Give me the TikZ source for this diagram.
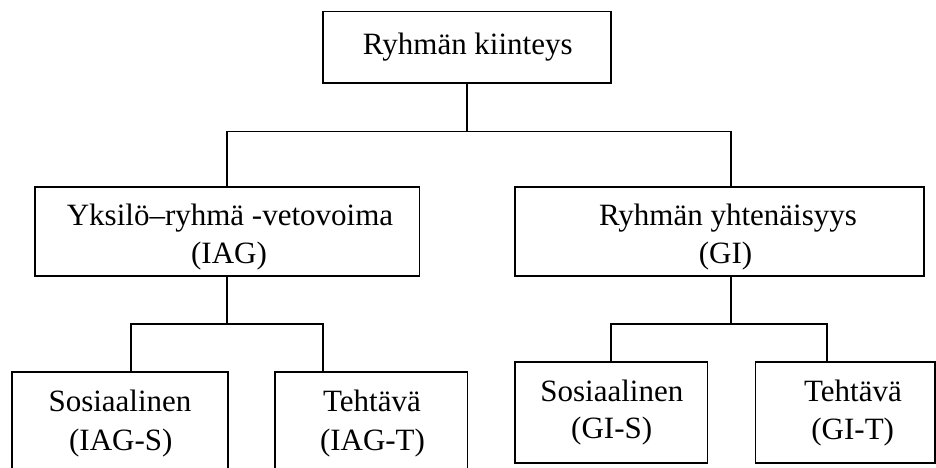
\documentclass[tikz,border=0pt]{standalone}
\usepackage{fontspec}
\setmainfont{Liberation Serif}
\begin{document}
\begin{tikzpicture}[x=1pt,y=-1pt,
  box/.style={draw=black, line width=1.7pt, rectangle, inner sep=0pt, minimum height=#1},
  conn/.style={draw=black, line width=1.7pt},
  txt/.style={inner sep=0pt, anchor=base, font=\fontsize{31}{37}\selectfont}
]
\fill[white] (0,0) rectangle (936,468);
\useasboundingbox (0,0) rectangle (936,468);

% boxes
\node[box=71.8, minimum width=288.3] (top) at (467.0,47.4) {};
\node[box=88.4, minimum width=384.3] (iag) at (227.2,231.5) {};
\node[box=88.4, minimum width=409.0] (gi) at (719.2,231.5) {};
\node[box=102, minimum width=216.0] (iags) at (119.7,422.7) {};
\node[box=102, minimum width=192.2] (iagt) at (371.4,422.7) {};
\node[box=101.6, minimum width=192.3] (gis) at (611.2,412.5) {};
\node[box=101.6, minimum width=179.7] (git) at (845.2,412.5) {};

% texts
\node[txt] (t0) at (467.8,55) {Ryhmän kiinteys};
\node[txt] (t1a) at (230,225.7) {Yksilö–ryhmä -vetovoima};
\node[txt] (t1b) at (229,263.3) {(IAG)};
\node[txt] (t2a) at (728,225.7) {Ryhmän yhtenäisyys};
\node[txt] (t2b) at (725.5,263.3) {(GI)};
\node[txt] (t3a) at (120,411.7) {Sosiaalinen};
\node[txt] (t3b) at (120.8,450.2) {(IAG-S)};
\node[txt] (t4a) at (372,411.7) {Tehtävä};
\node[txt] (t4b) at (372.5,450.2) {(IAG-T)};
\node[txt] (t5a) at (611.8,401.7) {Sosiaalinen};
\node[txt] (t5b) at (611.7,438.8) {(GI-S)};
\node[txt] (t6a) at (853,401.7) {Tehtävä};
\node[txt] (t6b) at (852.7,439.5) {(GI-T)};

% junction coordinates
\coordinate (b1L) at (227.3,131.5);
\coordinate (b1R) at (731.3,131.5);
\coordinate (b2L) at (131,324);
\coordinate (b2R) at (322.7,324);
\coordinate (b3L) at (611.3,324);
\coordinate (b3R) at (827.3,324);

% connectors
\draw[conn] (top.south) -- (top.south |- b1L);
\draw[conn] (b1L |- iag.north) -- (b1L) -- (b1R) -- (b1R |- gi.north);
\draw[conn] (iag.south) -- (iag.south |- b2L);
\draw[conn] (b2L |- iags.north) -- (b2L) -- (b2R) -- (b2R |- iagt.north);
\draw[conn] (b1R |- gi.south) -- (b1R |- b3L);
\draw[conn] (b3L |- gis.north) -- (b3L) -- (b3R) -- (b3R |- git.north);
\end{tikzpicture}
\end{document}
